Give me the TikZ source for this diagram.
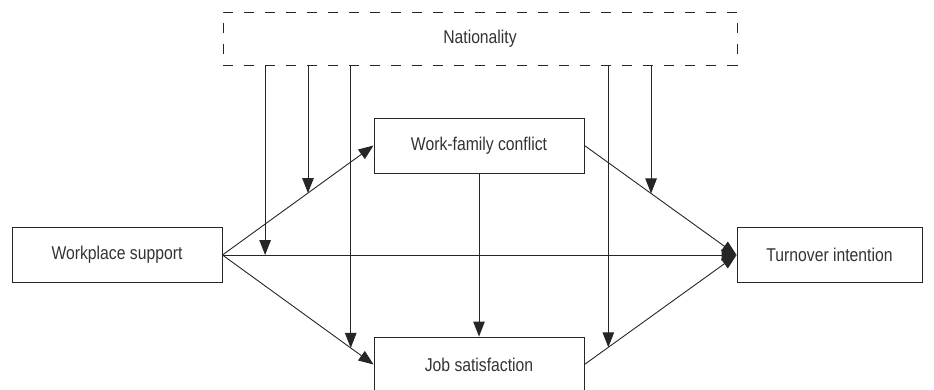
\documentclass[tikz,border=0pt]{standalone}
\usepackage{fontspec}
\setmainfont[FakeStretch=0.85]{Liberation Sans}
\usetikzlibrary{arrows.meta}
\definecolor{linegray}{rgb}{0.15,0.15,0.15}
\definecolor{textgray}{rgb}{0.2,0.2,0.2}

\begin{document}
\begin{tikzpicture}[x=1pt, y=-1pt,
    every node/.style={font=\fontsize{18.5}{22}\selectfont, text=textgray},
    box/.style={draw=linegray, line width=0.9pt, minimum width=210pt, minimum height=55pt, inner sep=0pt},
    modbox/.style={box, dash pattern=on 10pt off 11pt, minimum width=514pt, minimum height=53pt},
    arr/.style={draw=linegray, line width=0.9pt, -{Triangle[length=15pt, width=11.5pt]}}]

  \useasboundingbox (0,0) rectangle (934,390);

  % Kaesten
  \node[modbox] (nat) at (480,38.7) {Nationality};
  \node[box] (ws) at (117,255) {Workplace support};
  \node[box] (wfc) at (479,145.5) {Work-family conflict};
  \node[box] (js) at (479,364.5) {Job satisfaction};
  \node[box, minimum width=185pt] (ti) at (829.5,255) {Turnover intention};

  % Pfade
  \draw[arr] (ws.east) -- coordinate[pos=0.566] (m2) (wfc.west);
  \draw[arr] (ws.east) -- coordinate[pos=0.849] (m3) (js.west);
  \draw[arr] (ws.east) -- coordinate[pos=0.083] (m1) (ti.west);
  \draw[arr] (wfc.east) -- coordinate[pos=0.438] (m5) (ti.west);
  \draw[arr] (js.east) -- coordinate[pos=0.157] (m4) (ti.west);
  \draw[arr] (wfc.south) -- (js.north);

  % Moderation durch Nationality
  \foreach \m in {m1,m2,m3,m4,m5}
    \draw[arr] (\m |- nat.south) -- (\m);

\end{tikzpicture}
\end{document}
